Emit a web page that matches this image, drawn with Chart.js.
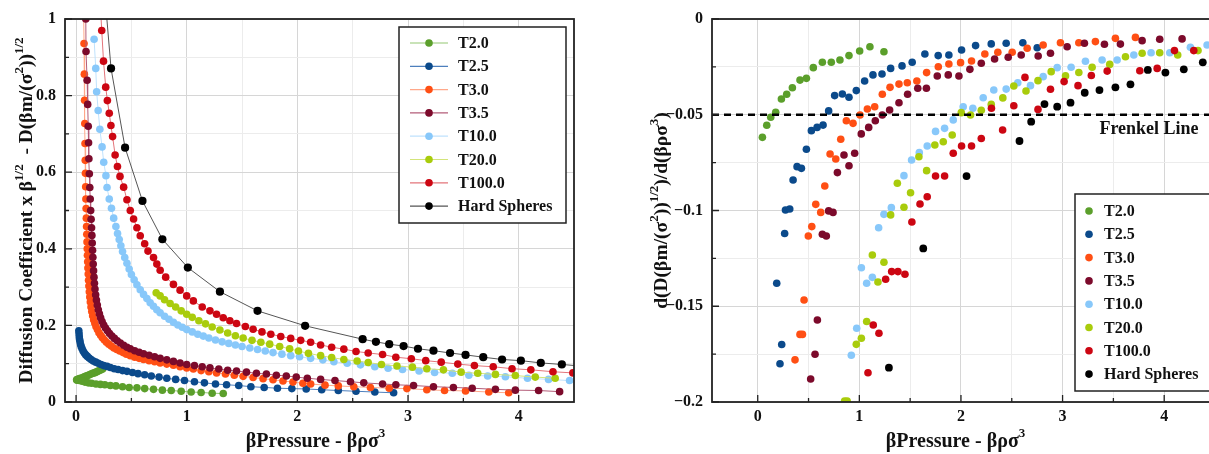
<!DOCTYPE html>
<html>
<head>
<meta charset="utf-8">
<script src="https://cdn.jsdelivr.net/npm/chart.js@4.4.1/dist/chart.umd.min.js"></script>
<style>
  html, body { margin: 0; padding: 0; background: #fff; width: 1209px; height: 454px; overflow: hidden; }
  #leftBox { position: absolute; left: 0; top: 0; width: 600px; height: 454px; }
  #rightBox { position: absolute; left: 600px; top: 0; width: 609px; height: 454px; overflow: hidden; }
</style>
</head>
<body>
<div id="leftBox"><canvas id="leftChart" width="600" height="454"></canvas></div>
<div id="rightBox"><canvas id="rightChart" width="630" height="454"></canvas></div>
<script>
// Series names and colours
const names = ['T2.0', 'T2.5', 'T3.0', 'T3.5', 'T10.0', 'T20.0', 'T100.0', 'Hard Spheres'];
const dotColors = ['#5b9f2b', '#0b4a8b', '#ff4f14', '#7c0a2b', '#88c8fa', '#a9cc0c', '#cc0612', '#000000'];
const lineColors = ['#93c872', '#4d7fbd', '#ffa88a', '#b35c78', '#bfe2fd', '#d3e47a', '#e3747a', '#555555'];

// Left panel: diffusion coefficient vs pressure  [x, y]
const leftT20 = [[0.24,0.086],[0.225,0.084],[0.21,0.082],[0.195,0.080],[0.18,0.078],[0.165,0.076],[0.15,0.075],[0.135,0.073],[0.12,0.071],[0.105,0.069],[0.09,0.068],[0.075,0.066],[0.06,0.064],[0.045,0.062],[0.03,0.061],[0.015,0.059],[0.005,0.058],[0.01,0.057],[0.03,0.056],[0.055,0.054],[0.08,0.052],[0.11,0.050],[0.14,0.049],[0.18,0.047],[0.22,0.046],[0.26,0.045],[0.31,0.043],[0.36,0.042],[0.42,0.040],[0.48,0.038],[0.55,0.037],[0.62,0.035],[0.7,0.033],[0.78,0.031],[0.86,0.030],[0.95,0.028],[1.04,0.026],[1.13,0.025],[1.23,0.023],[1.33,0.022]];
const leftT25 = [[0.025,0.186],[0.027,0.178],[0.029,0.170],[0.032,0.163],[0.036,0.157],[0.041,0.150],[0.047,0.144],[0.055,0.139],[0.064,0.133],[0.075,0.128],[0.088,0.123],[0.102,0.119],[0.118,0.115],[0.136,0.111],[0.156,0.107],[0.178,0.104],[0.2,0.101],[0.225,0.098],[0.25,0.095],[0.28,0.093],[0.31,0.090],[0.345,0.087],[0.38,0.085],[0.42,0.082],[0.46,0.080],[0.51,0.077],[0.56,0.074],[0.62,0.071],[0.68,0.068],[0.75,0.065],[0.82,0.062],[0.9,0.059],[0.98,0.056],[1.07,0.053],[1.16,0.050],[1.26,0.047],[1.36,0.045],[1.47,0.043],[1.58,0.040],[1.7,0.038],[1.82,0.036],[1.95,0.035],[2.08,0.034],[2.22,0.032],[2.37,0.030],[2.53,0.028],[2.7,0.026],[2.87,0.024]];
const leftT30 = [[0.068,1.03],[0.072,0.936],[0.075,0.856],[0.077,0.788],[0.079,0.727],[0.081,0.675],[0.083,0.631],[0.085,0.597],[0.087,0.562],[0.089,0.53],[0.091,0.505],[0.093,0.48],[0.095,0.458],[0.097,0.438],[0.099,0.418],[0.101,0.4],[0.103,0.383],[0.105,0.366],[0.107,0.35],[0.11,0.334],[0.113,0.318],[0.116,0.303],[0.12,0.288],[0.124,0.274],[0.129,0.261],[0.135,0.248],[0.142,0.236],[0.15,0.225],[0.159,0.215],[0.169,0.206],[0.18,0.197],[0.193,0.189],[0.207,0.181],[0.222,0.174],[0.238,0.168],[0.256,0.162],[0.275,0.156],[0.296,0.151],[0.318,0.146],[0.342,0.141],[0.368,0.137],[0.395,0.133],[0.425,0.129],[0.455,0.125],[0.49,0.121],[0.53,0.117],[0.57,0.114],[0.61,0.111],[0.66,0.108],[0.71,0.105],[0.76,0.102],[0.82,0.099],[0.88,0.096],[0.94,0.092],[1.0,0.089],[1.06,0.086],[1.13,0.082],[1.2,0.079],[1.27,0.076],[1.35,0.073],[1.43,0.070],[1.51,0.067],[1.6,0.064],[1.69,0.061],[1.78,0.058],[1.87,0.055],[1.96,0.052],[2.05,0.049],[2.12,0.047],[2.25,0.044],[2.37,0.042],[2.51,0.040],[2.66,0.038],[2.83,0.036],[2.99,0.035],[3.17,0.032],[3.33,0.030],[3.52,0.029],[3.73,0.026],[3.91,0.024]];
const leftT35 = [[0.083,1.05],[0.088,1.0],[0.09,0.915],[0.1,0.84],[0.105,0.777],[0.11,0.72],[0.113,0.677],[0.116,0.635],[0.12,0.596],[0.124,0.56],[0.128,0.53],[0.132,0.50],[0.136,0.477],[0.14,0.455],[0.143,0.435],[0.146,0.415],[0.149,0.396],[0.152,0.378],[0.155,0.36],[0.158,0.343],[0.162,0.326],[0.166,0.31],[0.171,0.295],[0.177,0.28],[0.184,0.266],[0.192,0.253],[0.201,0.241],[0.211,0.23],[0.222,0.22],[0.235,0.21],[0.25,0.201],[0.266,0.193],[0.284,0.186],[0.303,0.179],[0.324,0.172],[0.347,0.166],[0.372,0.16],[0.4,0.154],[0.43,0.148],[0.46,0.143],[0.49,0.139],[0.53,0.134],[0.57,0.13],[0.61,0.126],[0.66,0.122],[0.71,0.118],[0.76,0.114],[0.82,0.11],[0.88,0.106],[0.94,0.102],[1.0,0.098],[1.07,0.095],[1.14,0.092],[1.21,0.089],[1.29,0.086],[1.37,0.083],[1.45,0.081],[1.54,0.078],[1.63,0.075],[1.72,0.073],[1.81,0.070],[1.9,0.068],[1.99,0.065],[2.09,0.062],[2.21,0.059],[2.34,0.056],[2.48,0.053],[2.6,0.050],[2.77,0.047],[2.89,0.045],[3.05,0.043],[3.23,0.040],[3.41,0.038],[3.58,0.036],[3.79,0.033],[3.97,0.031],[4.18,0.030],[4.37,0.027]];
const leftT100 = [[0.163,0.947],[0.178,0.871],[0.186,0.81],[0.2,0.761],[0.215,0.712],[0.235,0.666],[0.25,0.626],[0.27,0.591],[0.28,0.56],[0.3,0.53],[0.32,0.506],[0.34,0.48],[0.36,0.458],[0.375,0.44],[0.39,0.424],[0.405,0.408],[0.42,0.393],[0.44,0.377],[0.46,0.362],[0.48,0.347],[0.5,0.333],[0.525,0.319],[0.55,0.306],[0.58,0.293],[0.61,0.281],[0.64,0.27],[0.67,0.259],[0.7,0.25],[0.73,0.241],[0.76,0.233],[0.8,0.224],[0.84,0.216],[0.88,0.208],[0.92,0.201],[0.96,0.195],[1.0,0.189],[1.05,0.183],[1.1,0.177],[1.15,0.172],[1.2,0.167],[1.26,0.162],[1.32,0.157],[1.38,0.153],[1.44,0.149],[1.5,0.145],[1.57,0.141],[1.64,0.137],[1.71,0.133],[1.78,0.129],[1.86,0.125],[1.94,0.121],[2.02,0.118],[2.12,0.114],[2.23,0.110],[2.33,0.105],[2.45,0.101],[2.57,0.097],[2.7,0.092],[2.82,0.088],[2.95,0.085],[3.1,0.081],[3.24,0.077],[3.4,0.075],[3.55,0.070],[3.72,0.068],[3.88,0.066],[4.08,0.062],[4.27,0.059],[4.46,0.056]];
const leftT200 = [[0.724,0.285],[0.76,0.277],[0.8,0.267],[0.85,0.257],[0.9,0.248],[0.95,0.238],[1.0,0.229],[1.05,0.221],[1.11,0.212],[1.17,0.204],[1.23,0.196],[1.3,0.188],[1.37,0.18],[1.44,0.173],[1.51,0.167],[1.59,0.161],[1.67,0.156],[1.75,0.151],[1.84,0.145],[1.93,0.139],[2.01,0.133],[2.1,0.127],[2.21,0.121],[2.31,0.116],[2.42,0.111],[2.54,0.107],[2.64,0.103],[2.76,0.098],[2.9,0.094],[3.04,0.091],[3.17,0.087],[3.32,0.084],[3.48,0.078],[3.63,0.075],[3.79,0.072],[3.97,0.069],[4.15,0.065],[4.33,0.062]];
const leftT1000 = [[0.215,1.06],[0.232,0.97],[0.248,0.89],[0.268,0.822],[0.283,0.787],[0.3,0.754],[0.315,0.722],[0.33,0.693],[0.353,0.645],[0.374,0.615],[0.397,0.589],[0.43,0.561],[0.46,0.528],[0.49,0.5],[0.52,0.478],[0.55,0.455],[0.58,0.434],[0.62,0.413],[0.65,0.394],[0.7,0.377],[0.73,0.36],[0.76,0.344],[0.81,0.326],[0.88,0.307],[0.94,0.292],[1.0,0.277],[1.06,0.264],[1.14,0.248],[1.21,0.238],[1.27,0.229],[1.33,0.22],[1.39,0.212],[1.45,0.205],[1.53,0.197],[1.6,0.19],[1.68,0.183],[1.76,0.177],[1.85,0.171],[1.94,0.166],[2.03,0.161],[2.12,0.156],[2.21,0.149],[2.31,0.143],[2.42,0.138],[2.53,0.132],[2.64,0.128],[2.77,0.124],[2.89,0.117],[3.03,0.113],[3.16,0.108],[3.3,0.104],[3.45,0.099],[3.6,0.095],[3.77,0.092],[3.94,0.087],[4.11,0.084],[4.31,0.079],[4.49,0.076]];
const leftHS = [[0.22,1.2],[0.316,0.871],[0.443,0.664],[0.6,0.525],[0.78,0.425],[1.01,0.351],[1.3,0.288],[1.64,0.238],[2.07,0.199],[2.59,0.164],[2.71,0.157],[2.83,0.151],[2.96,0.146],[3.09,0.139],[3.23,0.134],[3.38,0.128],[3.52,0.123],[3.68,0.117],[3.85,0.111],[4.02,0.108],[4.2,0.102],[4.39,0.098],[4.6,0.093]];

// Right panel: derivative vs pressure  [x, y]
const rightT20 = [[0.046,-0.0618],[0.089,-0.0555],[0.128,-0.0513],[0.177,-0.0487],[0.233,-0.0418],[0.285,-0.0393],[0.341,-0.0359],[0.416,-0.0319],[0.479,-0.031],[0.547,-0.0254],[0.636,-0.0226],[0.724,-0.0226],[0.809,-0.0214],[0.898,-0.0191],[1.003,-0.0167],[1.104,-0.0145],[1.242,-0.0171]];
const rightT25 = [[0.187,-0.138],[0.219,-0.180],[0.236,-0.170],[0.265,-0.112],[0.273,-0.0997],[0.315,-0.0992],[0.348,-0.0841],[0.387,-0.0771],[0.43,-0.078],[0.479,-0.068],[0.528,-0.0583],[0.584,-0.0566],[0.643,-0.0554],[0.698,-0.048],[0.757,-0.040],[0.833,-0.0392],[0.898,-0.0409],[0.97,-0.0374],[1.052,-0.0324],[1.134,-0.0292],[1.223,-0.0287],[1.308,-0.0258],[1.42,-0.0245],[1.52,-0.0226],[1.645,-0.0183],[1.776,-0.0191],[1.881,-0.0188],[2.006,-0.0162],[2.144,-0.0139],[2.298,-0.013],[2.445,-0.0127],[2.609,-0.0124],[2.75,-0.015]];
const rightT30 = [[0.367,-0.178],[0.416,-0.1647],[0.44,-0.1647],[0.456,-0.1467],[0.498,-0.1133],[0.532,-0.1084],[0.571,-0.0968],[0.62,-0.101],[0.66,-0.0872],[0.712,-0.0705],[0.768,-0.0731],[0.817,-0.0628],[0.872,-0.0531],[0.938,-0.0545],[1.007,-0.0501],[1.079,-0.047],[1.151,-0.0458],[1.226,-0.0393],[1.302,-0.0357],[1.39,-0.034],[1.472,-0.0333],[1.566,-0.0324],[1.662,-0.028],[1.777,-0.0249],[1.881,-0.0235],[1.996,-0.0228],[2.104,-0.0219],[2.235,-0.0183],[2.363,-0.0174],[2.504,-0.0174],[2.652,-0.0153],[2.809,-0.0136],[2.979,-0.0124],[3.16,-0.0124],[3.323,-0.0118],[3.52,-0.0101],[3.717,-0.0096]];
const rightT35 = [[0.521,-0.188],[0.564,-0.1751],[0.587,-0.1572],[0.636,-0.1124],[0.675,-0.1133],[0.698,-0.1002],[0.741,-0.101],[0.784,-0.0802],[0.849,-0.071],[0.898,-0.0766],[0.954,-0.0701],[1.019,-0.06],[1.092,-0.0566],[1.157,-0.0531],[1.226,-0.0501],[1.298,-0.0475],[1.39,-0.0437],[1.475,-0.0393],[1.575,-0.0362],[1.66,-0.0362],[1.767,-0.0298],[1.875,-0.0292],[1.98,-0.0298],[2.088,-0.0263],[2.2,-0.0231],[2.331,-0.0209],[2.465,-0.02],[2.593,-0.0188],[2.76,-0.0193],[2.881,-0.0179],[3.045,-0.0145],[3.215,-0.0127],[3.412,-0.0132],[3.569,-0.0131],[3.783,-0.0113],[3.956,-0.0106],[4.176,-0.0104]];
const rightT100 = [[0.921,-0.1756],[0.974,-0.1615],[1.02,-0.1299],[1.072,-0.138],[1.128,-0.1349],[1.19,-0.109],[1.242,-0.102],[1.315,-0.0985],[1.439,-0.0818],[1.514,-0.0736],[1.59,-0.0698],[1.668,-0.0663],[1.75,-0.0587],[1.839,-0.0571],[1.924,-0.0527],[2.022,-0.0458],[2.117,-0.0466],[2.219,-0.0411],[2.323,-0.0371],[2.445,-0.0366],[2.559,-0.0333],[2.684,-0.0348],[2.809,-0.0301],[2.947,-0.0254],[3.084,-0.0252],[3.225,-0.0221],[3.389,-0.0214],[3.537,-0.0214],[3.701,-0.0188],[3.871,-0.0176],[4.055,-0.0176],[4.258,-0.0148],[4.422,-0.0136]];
const rightT200 = [[0.855,-0.1995],[0.88,-0.1995],[0.97,-0.1699],[1.02,-0.1667],[1.072,-0.158],[1.128,-0.1232],[1.183,-0.1373],[1.242,-0.127],[1.308,-0.1023],[1.374,-0.0858],[1.439,-0.0983],[1.504,-0.0907],[1.586,-0.0719],[1.662,-0.0792],[1.743,-0.0658],[1.826,-0.0641],[1.914,-0.0606],[2.003,-0.0489],[2.094,-0.0501],[2.2,-0.0477],[2.298,-0.0446],[2.412,-0.0412],[2.52,-0.035],[2.64,-0.0376],[2.758,-0.0322],[2.888,-0.0275],[3.029,-0.0297],[3.16,-0.0279],[3.291,-0.0252],[3.464,-0.0237],[3.619,-0.0197],[3.783,-0.0179],[3.956,-0.0176],[4.133,-0.0188],[4.333,-0.0165]];
const rightT1000 = [[1.085,-0.1847],[1.137,-0.1598],[1.193,-0.1641],[1.259,-0.1359],[1.318,-0.1319],[1.38,-0.1319],[1.449,-0.1333],[1.517,-0.106],[1.597,-0.0966],[1.668,-0.0928],[1.75,-0.082],[1.839,-0.082],[1.924,-0.0701],[2.006,-0.0663],[2.104,-0.0663],[2.2,-0.0624],[2.3,-0.0466],[2.41,-0.058],[2.52,-0.0453],[2.63,-0.0305],[2.758,-0.0472],[2.881,-0.0367],[3.015,-0.0327],[3.152,-0.0348],[3.283,-0.0295],[3.439,-0.0272],[3.76,-0.027],[3.931,-0.0258],[4.101,-0.0165],[4.291,-0.0165]];
const rightHS = [[1.291,-0.1821],[1.629,-0.1198],[2.055,-0.082],[2.576,-0.0637],[2.691,-0.0536],[2.822,-0.0444],[2.947,-0.0458],[3.078,-0.0437],[3.218,-0.0385],[3.363,-0.0371],[3.52,-0.0357],[3.668,-0.0341],[3.839,-0.0266],[4.012,-0.028],[4.193,-0.0263],[4.38,-0.0226]];

const frenkelY = -0.05;

// Tick values
const leftXMajor = [0, 1, 2, 3, 4];
const leftXMinor = [0.5, 1.5, 2.5, 3.5];
const leftYMajor = [0, 0.2, 0.4, 0.6, 0.8, 1];
const leftYMinor = [0.1, 0.3, 0.5, 0.7, 0.9];
const rightXMajor = [0, 1, 2, 3, 4];
const rightXMinor = [0.5, 1.5, 2.5, 3.5];
const rightYMajor = [0, -0.05, -0.1, -0.15, -0.2];
const rightYMinor = [-0.025, -0.075, -0.125, -0.175];

const leftSeries = [leftT20, leftT25, leftT30, leftT35, leftT100, leftT200, leftT1000, leftHS];
const rightSeries = [rightT20, rightT25, rightT30, rightT35, rightT100, rightT200, rightT1000, rightHS];

const FONT = '"Liberation Serif", "Times New Roman", serif';
const toPts = arr => arr.map(p => ({ x: p[0], y: p[1] }));

// text with superscripts, centred on (cx, cy)
function drawRich(ctx, segs, cx, cy, size) {
  const big = 'bold ' + size + 'px ' + FONT, small = 'bold ' + Math.round(size * 0.66) + 'px ' + FONT;
  let w = 0;
  segs.forEach(s => {
    ctx.font = typeof s === 'string' ? big : small;
    w += ctx.measureText(typeof s === 'string' ? s : s.sup).width;
  });
  let x = cx - w / 2;
  ctx.textAlign = 'left';
  ctx.textBaseline = 'middle';
  ctx.fillStyle = '#111';
  segs.forEach(s => {
    const sup = typeof s !== 'string';
    const t = sup ? s.sup : s;
    ctx.font = sup ? small : big;
    ctx.fillText(t, x, sup ? cy - size * 0.4 : cy);
    x += ctx.measureText(t).width;
  });
}

// frame, inward ticks, titles, legend
const framePlugin = {
  id: 'frame',
  afterDraw(chart, args, o) {
    const ctx = chart.ctx, a = chart.chartArea;
    const xs = chart.scales.x, ys = chart.scales.y;
    ctx.save();
    ctx.strokeStyle = '#222';
    ctx.lineWidth = 1.3;
    ctx.beginPath();
    const tick = (vals, len, isX) => vals.forEach(v => {
      if (isX) {
        const p = xs.getPixelForValue(v);
        ctx.moveTo(p, a.bottom); ctx.lineTo(p, a.bottom - len);
      } else {
        const p = ys.getPixelForValue(v);
        ctx.moveTo(a.left, p); ctx.lineTo(a.left + len, p);
      }
    });
    tick(o.xMajor, 7, true); tick(o.xMinor, 4, true);
    tick(o.yMajor, 7, false); tick(o.yMinor, 4, false);
    ctx.stroke();
    ctx.lineWidth = 1.8;
    ctx.strokeRect(a.left, a.top, a.right - a.left, a.bottom - a.top);

    drawRich(ctx, o.xTitle, (a.left + a.right) / 2 + o.xTitleShift, 442, 20);
    ctx.save();
    ctx.translate(o.yTitleX, (a.top + a.bottom) / 2);
    ctx.rotate(-Math.PI / 2);
    drawRich(ctx, o.yTitle, 0, 0, 19.5);
    ctx.restore();

    if (o.note) {
      ctx.font = 'bold 18px ' + FONT;
      ctx.fillStyle = '#111';
      ctx.textAlign = 'center';
      ctx.textBaseline = 'middle';
      ctx.fillText(o.note.text, o.note.x, o.note.y);
    }

    const L = o.legend;
    ctx.fillStyle = '#fff';
    ctx.fillRect(L.x, L.y, L.w, L.h);
    ctx.strokeStyle = '#222';
    ctx.lineWidth = 1.5;
    ctx.strokeRect(L.x, L.y, L.w, L.h);
    ctx.font = 'bold 16px ' + FONT;
    ctx.textAlign = 'left';
    ctx.textBaseline = 'middle';
    names.forEach((n, i) => {
      const y = L.first + i * L.row;
      if (L.lines) {
        ctx.strokeStyle = lineColors[i];
        ctx.lineWidth = 1.2;
        ctx.beginPath(); ctx.moveTo(L.dotX - 19, y); ctx.lineTo(L.dotX + 19, y); ctx.stroke();
      }
      ctx.fillStyle = dotColors[i];
      ctx.beginPath(); ctx.arc(L.dotX, y, 3.8, 0, Math.PI * 2); ctx.fill();
      ctx.fillStyle = '#111';
      ctx.fillText(n, L.textX, y + 1);
    });
    ctx.restore();
  }
};

function axis(min, max, major, minor, fmt, isX, size) {
  return {
    type: 'linear', min, max,
    afterBuildTicks: s => { s.ticks = major.concat(minor).sort((p, q) => p - q).map(v => ({ value: v })); },
    afterFit: s => { if (isX) s.height = size; else s.width = size; },
    ticks: {
      autoSkip: false, maxRotation: 0, padding: isX ? 5 : 9,
      color: '#111', font: { family: FONT, size: 16, weight: 'bold' },
      callback: v => major.includes(v) ? fmt(v) : ''
    },
    grid: {
      drawTicks: false, lineWidth: 1,
      color: c => (c.tick && major.includes(c.tick.value)) ? '#d6d6d6' : '#ececec'
    },
    border: { display: false }
  };
}

const fmtLeft = v => String(v);
const fmtRightY = v => v === 0 ? '0' : '\u2212' + String(Math.abs(v));

// Left chart
new Chart(document.getElementById('leftChart'), {
  type: 'scatter',
  data: {
    datasets: leftSeries.map((s, i) => ({
      label: names[i], data: toPts(s), showLine: true, tension: 0,
      borderColor: lineColors[i], borderWidth: 1,
      pointRadius: i === 7 ? 4.1 : 3.8, pointBorderWidth: 0,
      pointBackgroundColor: dotColors[i], order: 10 - i
    }))
  },
  options: {
    responsive: false, animation: false, events: [],
    layout: { padding: { top: 19, right: 26, left: 0, bottom: 0 } },
    scales: {
      x: axis(-0.1, 4.5, leftXMajor, leftXMinor, fmtLeft, true, 52),
      y: axis(0, 1, leftYMajor, leftYMinor, fmtLeft, false, 65)
    },
    plugins: {
      legend: { display: false }, tooltip: { enabled: false },
      frame: {
        xMajor: leftXMajor, xMinor: leftXMinor, yMajor: leftYMajor, yMinor: leftYMinor,
        xTitle: ['\u03b2Pressure - \u03b2\u03c1\u03c3', { sup: '3' }], xTitleShift: -4,
        yTitle: ['Diffusion Coefficient x \u03b2', { sup: '1/2' }, '  - D(\u03b2m/(\u03c3', { sup: '2' }, '))', { sup: '1/2' }],
        yTitleX: 27,
        legend: { x: 399, y: 27, w: 167, h: 196, first: 43, row: 23.3, dotX: 429, textX: 458, lines: true }
      }
    }
  },
  plugins: [framePlugin]
});

// Right chart
const rightSets = rightSeries.map((s, i) => ({
  label: names[i], data: toPts(s), showLine: false,
  pointRadius: i === 7 ? 3.9 : 3.8, pointBorderWidth: 0,
  pointBackgroundColor: dotColors[i], order: 10 - i
}));
rightSets.push({
  label: '', data: [{ x: -0.45, y: frenkelY }, { x: 4.5, y: frenkelY }],
  showLine: true, borderColor: '#000', borderWidth: 2.5, borderDash: [7, 5],
  pointRadius: 0, order: -1
});

new Chart(document.getElementById('rightChart'), {
  type: 'scatter',
  data: { datasets: rightSets },
  options: {
    responsive: false, animation: false, events: [],
    layout: { padding: { top: 19, right: 15, left: 0, bottom: 0 } },
    scales: {
      x: axis(-0.45, 4.5, rightXMajor, rightXMinor, fmtLeft, true, 52),
      y: axis(-0.2, 0, rightYMajor, rightYMinor, fmtRightY, false, 112)
    },
    plugins: {
      legend: { display: false }, tooltip: { enabled: false },
      frame: {
        xMajor: rightXMajor, xMinor: rightXMinor, yMajor: rightYMajor, yMinor: rightYMinor,
        xTitle: ['\u03b2Pressure - \u03b2\u03c1\u03c3', { sup: '3' }], xTitleShift: -8,
        yTitle: ['d(D(\u03b2m/(\u03c3', { sup: '2' }, '))', { sup: '1/2' }, ')/d(\u03b2\u03c1\u03c3', { sup: '3' }, ')'],
        yTitleX: 62,
        note: { text: 'Frenkel Line', x: 549, y: 129 },
        legend: { x: 475, y: 194, w: 160, h: 197, first: 211, row: 23.3, dotX: 489, textX: 504, lines: false }
      }
    }
  },
  plugins: [framePlugin]
});
</script>
</body>
</html>
